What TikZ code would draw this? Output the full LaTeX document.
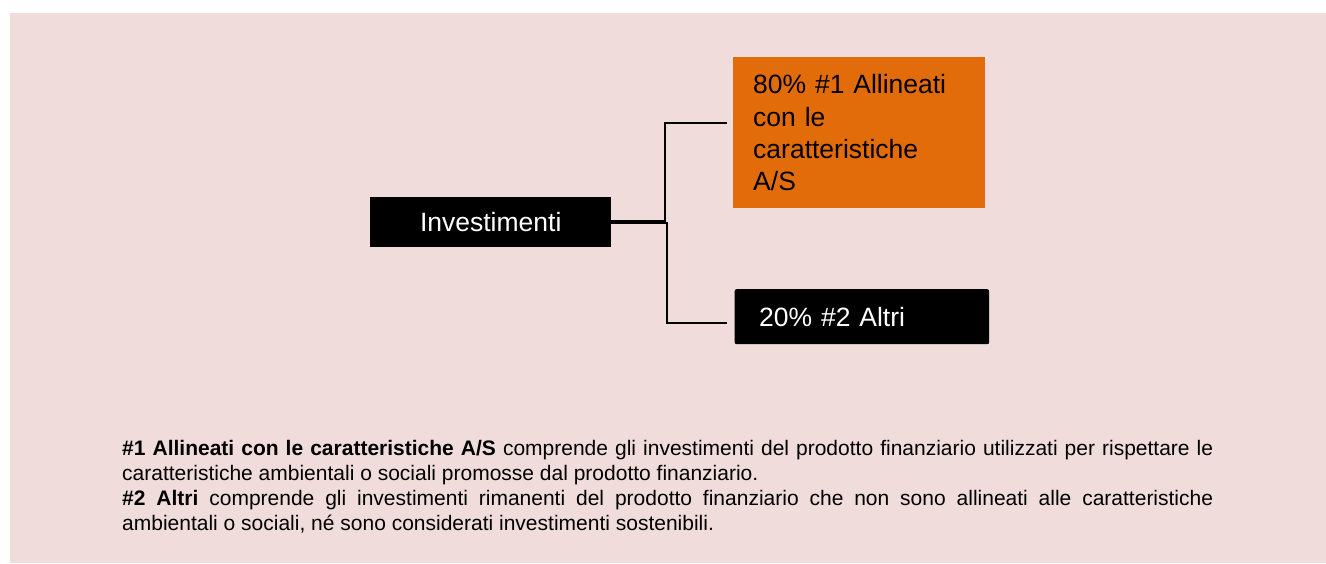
\documentclass[tikz,border=0pt]{standalone}
\usepackage{fontspec}
\setmainfont{Liberation Sans}
\definecolor{bgpink}{RGB}{241,220,220}
\definecolor{boxorange}{RGB}{227,108,10}
\hbadness=10000
\begin{document}
\begin{tikzpicture}[x=1pt,y=-1pt,
  boxfont/.style={font=\fontsize{26.5}{32.2}\selectfont},
  darkbox/.style={fill=black, text=white, inner sep=0pt, anchor=north west, boxfont},
  orangebox/.style={fill=boxorange, text=black, inner sep=0pt, anchor=north west, boxfont},
  conn/.style={draw=black, line width=1.5pt}]
\useasboundingbox (0,0) rectangle (1326,563);
\fill[bgpink] (10,13) rectangle (1326,563);

\node[darkbox, minimum width=241pt, minimum height=50pt] (inv) at (370,197) {Investimenti};

\node[orangebox, minimum width=252pt, minimum height=151pt, text width=212pt, inner xsep=20pt, align=left] (all) at (733,57)
  {80\% \#1 Allineati\\con le\\caratteristiche\\A/S};

\node[darkbox, rounded corners=2pt, minimum width=254.5pt, minimum height=55pt, text width=205.5pt, inner xsep=24.5pt, align=left] (alt) at (734.5,289)
  {20\% \#2 Altri};

\coordinate (e1) at (665,123);
\coordinate (t1) at (727,123);
\coordinate (e2) at (667,323);
\coordinate (t2) at (727,323);
\draw[conn] ([yshift=1pt]inv.east) -| (e1) -- (t1);
\draw[conn] ([yshift=-1pt]inv.east) -| (e2) -- (t2);

\node[anchor=north west, inner sep=0pt, text width=1091pt, align=justify,
  font=\fontsize{21}{25}\selectfont] (cap) at (122,440)
  {\textbf{\#1 Allineati con le caratteristiche A/S} comprende gli investimenti del prodotto finanziario utilizzati per rispettare le\linebreak
   caratteristiche ambientali o sociali promosse dal prodotto finanziario.\\
   \textbf{\#2 Altri} comprende gli investimenti rimanenti del prodotto finanziario che non sono allineati alle caratteristiche\linebreak
   ambientali o sociali, né sono considerati investimenti sostenibili.};
\end{tikzpicture}
\end{document}
